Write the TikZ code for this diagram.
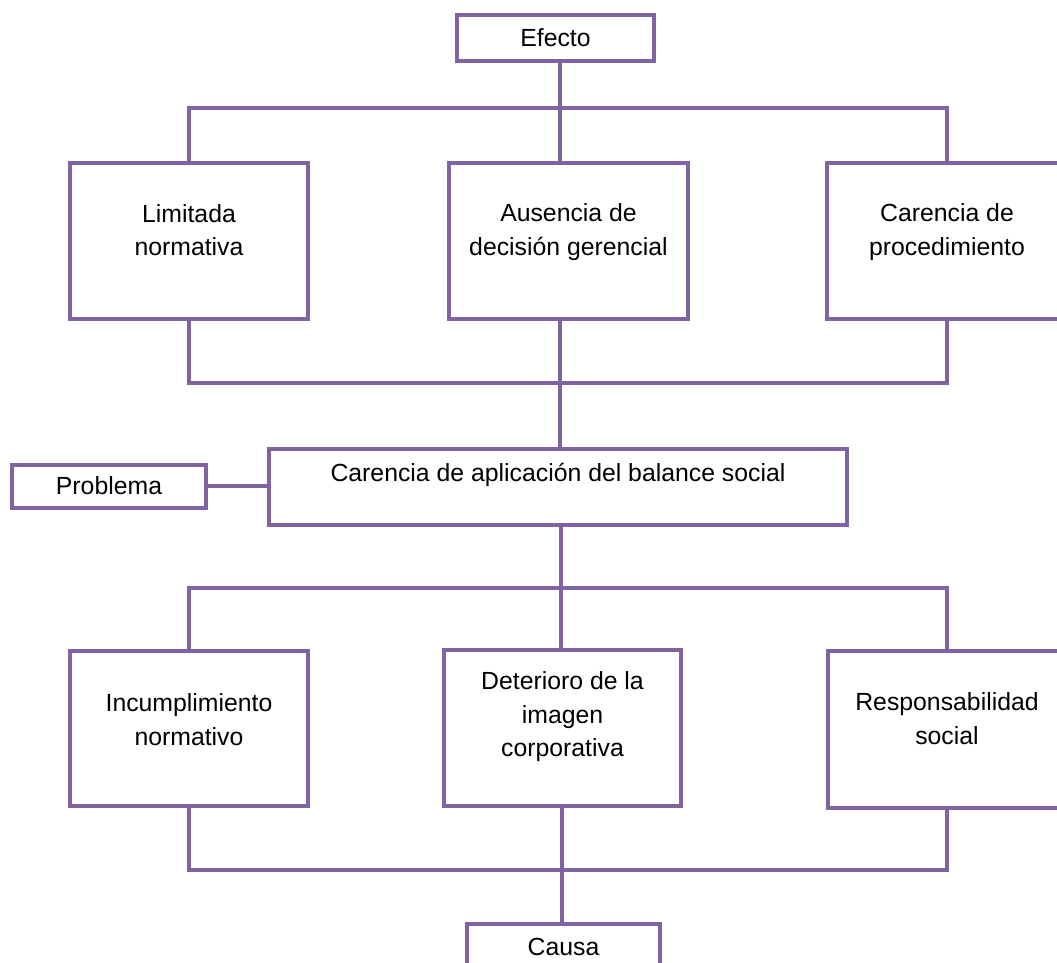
\documentclass[tikz,border=0pt]{standalone}
\usepackage{fontspec}
\setmainfont{Liberation Sans}
\usepackage{tikz}
\usetikzlibrary{positioning}
\definecolor{lila}{HTML}{8064A2}

\begin{document}
\begin{tikzpicture}
          [x=1pt,y=-1pt,line width=4pt,
           box/.style={draw=lila,fill=white,inner sep=0pt,font=\fontsize{24.8}{33.5}\selectfont},
           txt/.style={align=center,font=\fontsize{24.8}{33.5}\selectfont,yshift=11pt},
           link/.style={draw=lila}]
          \useasboundingbox (0,0) rectangle (1057,962);
          \clip (0,0) rectangle (1057,962);

          \node[box,minimum width=197pt,minimum height=46pt] (efecto) at (555.5,38) {Efecto};

          \node[box,minimum width=238pt,minimum height=156pt,label={[txt]center:{Limitada\\normativa}}] (lim) at (189,241) {};
          \node[box,minimum width=239pt,minimum height=156pt,label={[txt,yshift=-2pt]center:{Ausencia de\\decisión gerencial}}] (aus) at (568.5,241) {};
          \node[box,minimum width=240pt,minimum height=156pt,label={[txt,yshift=-2pt]center:{Carencia de\\procedimiento}}] (car) at (947,241) {};

          \node[box,minimum width=578pt,minimum height=76pt,label={[txt,yshift=1pt]center:{Carencia de aplicación del balance social}}] (prob) at (558,487) {};
          \node[box,minimum width=194pt,minimum height=43pt] (probl) [left=59pt of prob.west,anchor=east,yshift=1pt] {Problema};

          \node[box,minimum width=238pt,minimum height=155pt,label={[txt,yshift=-2pt]center:{Incumplimiento\\normativo}}] (inc) at (189,728.5) {};
          \node[box,minimum width=237pt,minimum height=156pt,label={[txt]center:{Deterioro de la\\imagen\\corporativa}}] (det) at (562.5,728) {};
          \node[box,minimum width=238pt,minimum height=157pt,label={[txt]center:{Responsabilidad\\social}}] (resp) at (947,729.5) {};

          \node[box,minimum width=193pt,minimum height=46pt] (causa) at (563.5,947) {Causa};

          \coordinate (ebus) at (560,108);
          \coordinate (cbus) at (561,383);
          \coordinate (dbus) at (561,588);
          \coordinate (fbus) at (562,870);

          \path[link]
          (lim.north) |- (ebus) -| (car.north)
          (lim.south) |- (cbus) -| (car.south)
          (efecto.south -| ebus) -- (aus.north -| ebus)
          (aus.south -| ebus) -- (prob.north -| ebus)
          (probl.east) -- (probl.east -| prob.west)
          (inc.north) |- (dbus) -| (resp.north)
          (prob.south -| dbus) -- (det.north -| dbus)
          (inc.south) |- (fbus) -| (resp.south)
          (det.south -| fbus) -- (causa.north -| fbus)
          ;
\end{tikzpicture}
\end{document}
